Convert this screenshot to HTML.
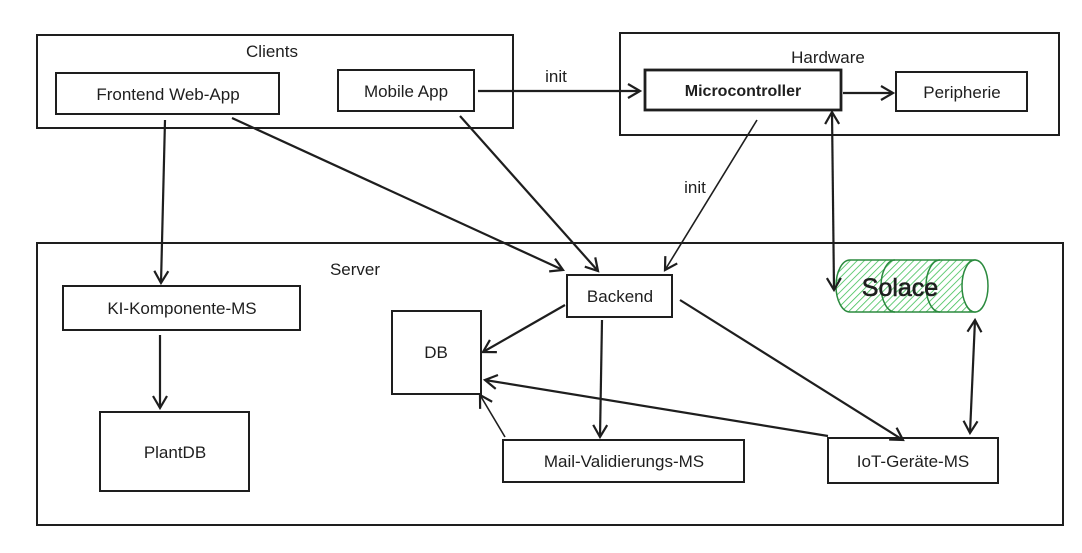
<!DOCTYPE html>
<html><head><meta charset="utf-8"><style>
html,body{margin:0;padding:0;background:#fff;width:1082px;height:553px;overflow:hidden}
text{font-family:"Liberation Sans",sans-serif;fill:#1e1e1e}
</style></head><body>
<svg width="1082" height="553" viewBox="0 0 1082 553" xmlns="http://www.w3.org/2000/svg">
<defs>
<marker id="a" markerWidth="16" markerHeight="16" refX="13" refY="8" orient="auto" markerUnits="userSpaceOnUse">
<path d="M1,1 L13,8 L1,15" fill="none" stroke="#1e1e1e" stroke-width="2.2"/></marker>
<marker id="s" markerWidth="16" markerHeight="16" refX="3" refY="8" orient="auto" markerUnits="userSpaceOnUse">
<path d="M15,1 L3,8 L15,15" fill="none" stroke="#1e1e1e" stroke-width="2.2"/></marker>
<pattern id="h" width="5" height="5" patternUnits="userSpaceOnUse" patternTransform="rotate(45)">
<line x1="0" y1="0" x2="0" y2="5" stroke="#40c057" stroke-width="1.6"/></pattern>
</defs>
<g fill="none" stroke="#1e1e1e" stroke-width="2">
<rect x="37" y="35" width="476" height="93"/>
<rect x="56" y="73" width="223" height="41"/>
<rect x="338" y="70" width="136" height="41"/>
<rect x="620" y="33" width="439" height="102"/>
<rect x="645" y="70" width="196" height="40" stroke-width="2.8"/>
<rect x="896" y="72" width="131" height="39"/>
<rect x="37" y="243" width="1026" height="282"/>
<rect x="63" y="286" width="237" height="44"/>
<rect x="100" y="412" width="149" height="79"/>
<rect x="567" y="275" width="105" height="42"/>
<rect x="392" y="311" width="89" height="83"/>
<rect x="503" y="440" width="241" height="42"/>
<rect x="828" y="438" width="170" height="45"/>
</g>
<g stroke="#2b8a3e" stroke-width="1.5" fill="url(#h)">
<path d="M850,260 H975 V312 H850 A14,26 0 0 1 850,260 Z"/>
<path d="M895,260 A14,26 0 0 0 895,312" fill="none"/>
<path d="M940,260 A14,26 0 0 0 940,312" fill="none"/>
<ellipse cx="975" cy="286" rx="13" ry="26" fill="#fff"/>
</g>
<g fill="none" stroke="#1e1e1e" stroke-width="2.2">
<line x1="478" y1="91" x2="640" y2="91" marker-end="url(#a)"/>
<line x1="843" y1="93" x2="893" y2="93" marker-end="url(#a)"/>
<line x1="165" y1="120" x2="161" y2="283" marker-end="url(#a)"/>
<line x1="232" y1="118" x2="563" y2="270" marker-end="url(#a)"/>
<line x1="460" y1="116" x2="598" y2="271" marker-end="url(#a)"/>
<line x1="757" y1="120" x2="665" y2="270" marker-end="url(#a)" stroke-width="1.6"/>
<line x1="832" y1="112" x2="834" y2="290" marker-end="url(#a)" marker-start="url(#s)"/>
<line x1="160" y1="335" x2="160" y2="408" marker-end="url(#a)"/>
<line x1="565" y1="305" x2="483" y2="352" marker-end="url(#a)"/>
<line x1="602" y1="320" x2="600" y2="437" marker-end="url(#a)"/>
<line x1="680" y1="300" x2="903" y2="440" marker-end="url(#a)"/>
<line x1="828" y1="436" x2="485" y2="380" marker-end="url(#a)"/>
<line x1="505" y1="437" x2="480" y2="395" marker-end="url(#a)" stroke-width="1.6"/>
<line x1="975" y1="320" x2="970" y2="433" marker-end="url(#a)" marker-start="url(#s)"/>
</g>
<g font-size="17" text-anchor="middle">
<text x="272" y="57">Clients</text>
<text x="168" y="100">Frontend Web-App</text>
<text x="406" y="97">Mobile App</text>
<text x="828" y="63">Hardware</text>
<text x="743" y="96" font-weight="bold" font-size="16">Microcontroller</text>
<text x="962" y="98">Peripherie</text>
<text x="556" y="82">init</text>
<text x="695" y="193">init</text>
<text x="355" y="275">Server</text>
<text x="182" y="314">KI-Komponente-MS</text>
<text x="175" y="458">PlantDB</text>
<text x="620" y="302">Backend</text>
<text x="436" y="358">DB</text>
<text x="624" y="467">Mail-Validierungs-MS</text>
<text x="913" y="467">IoT-Geräte-MS</text>
<text x="900" y="296" font-size="25" stroke="#1e1e1e" stroke-width="0.6">Solace</text>
</g>
</svg>
</body></html>
